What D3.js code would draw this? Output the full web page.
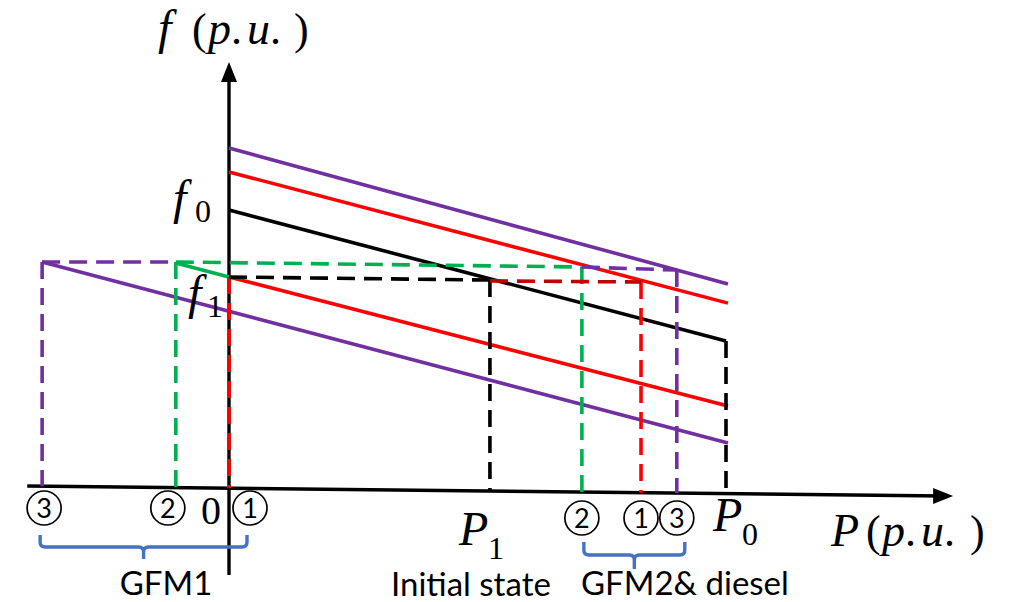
<!DOCTYPE html>
<html>
<head>
<meta charset="utf-8">
<script src="https://cdn.jsdelivr.net/npm/d3@7"></script>
<style>
  body { margin: 0; background: #ffffff; }
  svg { display: block; }
</style>
</head>
<body>
<svg id="chart" width="1020" height="602"></svg>
<script>
// ---- droop characteristics (P in p.u. of P0, f in p.u. of f0) ----
const droopNames  = ["up3", "up1", "initial", "down1", "down3"];
const droopStartP = [0, 0, 0, 0, -0.376];
const droopStartF = [1.223, 1.137, 1.000, 0.759, 0.813];
const droopEndP   = [1.004, 1.004, 1.000, 1.004, 1.004];
const droopEndF   = [0.734, 0.665, 0.529, 0.295, 0.162];

// GFM② extension of the lowered curve into negative power
const shiftP = [-0.107, 0];
const shiftF = [0.809, 0.759];

// horizontal guide lines (operating frequency levels)
const hGuideNames  = ["purpleL", "green", "black", "darkred", "purpleR"];
const hGuideStartP = [-0.376, -0.107, 0, 0.525, 0.710];
const hGuideEndP   = [-0.107, 0.710, 0.525, 0.829, 0.901];
const hGuideStartF = [0.813, 0.813, 0.759, 0.745, 0.795];
const hGuideEndF   = [0.813, 0.795, 0.748, 0.741, 0.784];

// vertical guide lines (operating power points)
const vGuideNames = ["purple", "green", "red", "black", "green", "red", "purple", "black"];
const vGuideP     = [-0.376, -0.107, 0, 0.525, 0.710, 0.829, 0.901, 1.000];
const vGuideTopF  = [0.813, 0.813, 0.759, 0.748, 0.795, 0.741, 0.784, 0.529];

// axes
const xAxisP = [-0.406, 1.457];
const xAxisF = [0.007, -0.029];
const yAxisF = [-0.313, 1.532];

// operating point markers
const leftMarks   = ["③", "②", "①"];
const leftMarkP   = [-0.376, -0.107, 0];
const rightMarks  = ["②", "①", "③"];
const rightMarkP  = [0.710, 0.829, 0.901];
const groupLabels = ["GFM1", "GFM2& diesel"];
const stateLabel  = "Initial state";

// ---- scales ----
const x = d3.scaleLinear().domain([0, 1]).range([229, 726]);
const y = d3.scaleLinear().domain([0, 1]).range([488, 210]);

const colour = {
  up3: "#7030a0", up1: "#ff0000", initial: "#000000", down1: "#ff0000", down3: "#7030a0",
  purpleL: "#7030a0", purpleR: "#7030a0", purple: "#7030a0",
  green: "#00b050", black: "#000000", red: "#ff0000", darkred: "#c00000"
};

const svg = d3.select("#chart");
svg.append("rect").attr("width", 1020).attr("height", 602).attr("fill", "#ffffff");

const seg = d3.line().x(d => x(d[0])).y(d => y(d[1]));
const axisF = p => xAxisF[0] + (xAxisF[1] - xAxisF[0]) * (p - xAxisP[0]) / (xAxisP[1] - xAxisP[0]);

// ---- axes ----
const axes = svg.append("g");
axes.append("path")
  .attr("d", seg([[xAxisP[0], xAxisF[0]], [xAxisP[1] - 0.02, axisF(xAxisP[1] - 0.02)]]))
  .attr("stroke", "#000").attr("stroke-width", 3.4).attr("fill", "none");
{
  const tx = x(xAxisP[1]), ty = y(xAxisF[1]);
  axes.append("path")
    .attr("d", `M${tx},${ty} L${tx - 20},${ty - 8} L${tx - 20},${ty + 8} Z`)
    .attr("fill", "#000");
}
axes.append("path")
  .attr("d", seg([[0, yAxisF[0]], [0, yAxisF[1] - 0.04]]))
  .attr("stroke", "#000").attr("stroke-width", 3.4).attr("fill", "none");
{
  const tx = x(0), ty = y(yAxisF[1]);
  axes.append("path")
    .attr("d", `M${tx},${ty} L${tx - 8},${ty + 20} L${tx + 8},${ty + 20} Z`)
    .attr("fill", "#000");
}

// ---- droop lines ----
const lines = svg.append("g").attr("fill", "none").attr("stroke-width", 3.6);
droopNames.forEach((n, i) => {
  lines.append("path")
    .attr("d", seg([[droopStartP[i], droopStartF[i]], [droopEndP[i], droopEndF[i]]]))
    .attr("stroke", colour[n]);
});
lines.append("path")
  .attr("d", seg([[shiftP[0], shiftF[0]], [shiftP[1], shiftF[1]]]))
  .attr("stroke", colour.green);

// ---- dashed guides ----
const guides = svg.append("g").attr("fill", "none").attr("stroke-width", 3.6);
vGuideNames.forEach((n, i) => {
  guides.append("path")
    .attr("d", seg([[vGuideP[i], vGuideTopF[i]], [vGuideP[i], axisF(vGuideP[i])]]))
    .attr("stroke", colour[n])
    .attr("stroke-dasharray", "17,9");
});
hGuideNames.forEach((n, i) => {
  guides.append("path")
    .attr("d", seg([[hGuideStartP[i], hGuideStartF[i]], [hGuideEndP[i], hGuideEndF[i]]]))
    .attr("stroke", colour[n])
    .attr("stroke-dasharray", "18,9");
});

// ---- math-style text helper ----
const SERIF = "'Liberation Serif', 'Times New Roman', serif";
function mathText(parts) {
  const t = svg.append("text").attr("font-family", SERIF).attr("fill", "#000");
  parts.forEach(p => {
    t.append("tspan")
      .attr("x", p.x).attr("y", p.y)
      .attr("font-size", p.s)
      .attr("font-style", p.it ? "italic" : "normal")
      .text(p.t);
  });
  return t;
}

// axis titles
mathText([
  { t: "f", it: true, x: 158, y: 44, s: 48 },
  { t: "(", x: 192, y: 44, s: 44 },
  { t: "p", it: true, x: 208, y: 44, s: 46 },
  { t: ".", x: 231, y: 44, s: 44 },
  { t: "u", it: true, x: 247, y: 44, s: 46 },
  { t: ".", x: 270, y: 44, s: 44 },
  { t: ")", x: 294, y: 44, s: 44 }
]);
mathText([
  { t: "P", it: true, x: 831, y: 546, s: 46 },
  { t: "(", x: 866, y: 546, s: 44 },
  { t: "p", it: true, x: 882, y: 546, s: 46 },
  { t: ".", x: 905, y: 546, s: 44 },
  { t: "u", it: true, x: 921, y: 546, s: 46 },
  { t: ".", x: 944, y: 546, s: 44 },
  { t: ")", x: 970, y: 546, s: 44 }
]);

// tick-style labels
const fx = x(0);
mathText([
  { t: "f", it: true, x: fx - 56, y: y(droopStartF[2]) + 4, s: 48 },
  { t: "0", x: fx - 34, y: y(droopStartF[2]) + 12, s: 32 }
]);
mathText([
  { t: "f", it: true, x: fx - 41, y: y(droopStartF[3]) + 32, s: 48 },
  { t: "1", x: fx - 22, y: y(droopStartF[3]) + 40, s: 32 }
]);
mathText([
  { t: "P", it: true, x: x(vGuideP[3]) - 31, y: 545, s: 48 },
  { t: "1", x: x(vGuideP[3]) - 2, y: 559, s: 32 }
]);
mathText([
  { t: "P", it: true, x: x(vGuideP[7]) - 13, y: 531, s: 48 },
  { t: "0", x: x(vGuideP[7]) + 16, y: 545, s: 32 }
]);
svg.append("text")
  .attr("x", x(0) - 18).attr("y", 524)
  .attr("text-anchor", "middle")
  .attr("font-family", SERIF).attr("font-size", 40)
  .text("0");

// ---- circled operating point markers ----
const SANS = "Lato, 'Open Sans', sans-serif";
function marker(cx, cy, label) {
  const g = svg.append("g");
  g.append("circle").attr("cx", cx).attr("cy", cy).attr("r", 17)
    .attr("fill", "none").attr("stroke", "#000").attr("stroke-width", 1.7);
  g.append("text").attr("x", cx).attr("y", cy + 9.5)
    .attr("text-anchor", "middle")
    .attr("font-family", SANS).attr("font-size", 27)
    .text(label.replace("①", "1").replace("②", "2").replace("③", "3"));
}
const leftOffset = [2, -8, 21];
const leftCx = leftMarkP.map((p, i) => x(p) + leftOffset[i]);
leftMarks.forEach((m, i) => marker(leftCx[i], 508, m));
const rightCx = rightMarkP.map(p => x(p));
rightMarks.forEach((m, i) => marker(rightCx[i], 518, m));

// ---- group braces ----
function brace(x1, x2, top, h, bottom) {
  const mid = (x1 + x2) / 2, r = 5;
  const d = `M${x1},${top} V${h - r} Q${x1},${h} ${x1 + r},${h} H${mid - r} Q${mid},${h} ${mid},${h + r} V${bottom}` +
            ` M${mid},${h + r} Q${mid},${h} ${mid + r},${h} H${x2 - r} Q${x2},${h} ${x2},${h - r} V${top}`;
  svg.append("path").attr("d", d).attr("fill", "none")
    .attr("stroke", "#4472c4").attr("stroke-width", 3.4);
}
brace(leftCx[0] - 4, leftCx[2] - 3, 535, 547, 559);
brace(rightCx[0] + 2, rightCx[2] + 8, 542, 555, 569);

// ---- group captions ----
const cap = svg.append("g").attr("font-family", SANS).attr("font-size", 33).attr("fill", "#000");
cap.append("text").attr("x", 166).attr("y", 595).attr("text-anchor", "middle").text(groupLabels[0]);
cap.append("text").attr("x", x(vGuideP[3]) - 19).attr("y", 596).attr("text-anchor", "middle").text(stateLabel);
cap.append("text").attr("x", 581).attr("y", 595).attr("text-anchor", "start").text(groupLabels[1]);
</script>
</body>
</html>
